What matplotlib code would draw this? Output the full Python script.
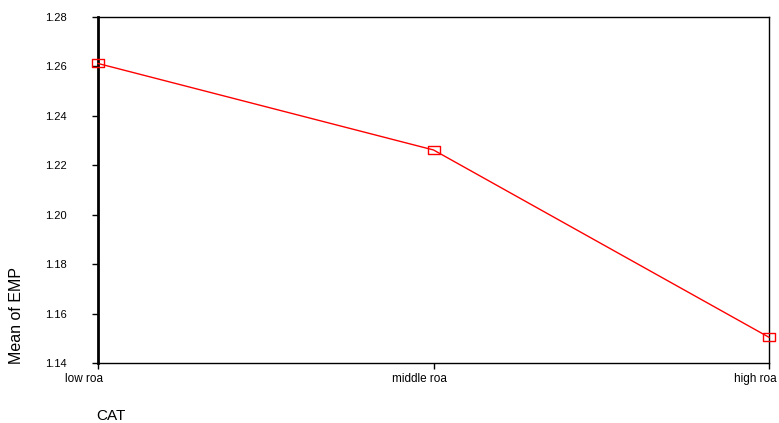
import matplotlib
matplotlib.use("Agg")
import matplotlib.pyplot as plt
from matplotlib.path import Path

categories = ["low roa", "middle roa", "high roa"]
means = [1.2612, 1.2262, 1.1504]
yticks = [1.14, 1.16, 1.18, 1.20, 1.22, 1.24, 1.26, 1.28]

plt.rcParams['font.family'] = ['Liberation Sans', 'DejaVu Sans']

fig = plt.figure(figsize=(7.79, 4.23), dpi=100)
ax = fig.add_axes([98/779, 1-363/423, (769-98)/779, (363-17)/423])

rect = Path([(-0.85, -0.5), (0.85, -0.5), (0.85, 0.5), (-0.85, 0.5), (-0.85, -0.5)],
            [Path.MOVETO, Path.LINETO, Path.LINETO, Path.LINETO, Path.CLOSEPOLY])
x = list(range(len(categories)))
ax.plot(x, means, color='#ff0000', lw=1.0, marker=rect, markersize=9,
        markerfacecolor='none', markeredgecolor='#ff0000', markeredgewidth=1.0,
        clip_on=False, zorder=5)

ax.set_xlim(0, len(categories)-1)
ax.set_ylim(1.14, 1.28)
ax.set_yticks(yticks)
ax.set_yticklabels([f"{v:.2f}" for v in yticks], fontsize=8)
ax.set_xticks(x)
ax.set_xticklabels([])
for xi, cat in zip(x, categories):
    ax.annotate(cat, xy=(xi, 0), xycoords=ax.get_xaxis_transform(),
                xytext=(-10, -7.5), textcoords='offset points',
                ha='center', va='top', fontsize=8.5, annotation_clip=False)

ax.tick_params(axis='both', direction='out', length=4.3, width=1, color='black')
ax.tick_params(axis='y', pad=18)
ax.spines['left'].set_linewidth(2.0)
for s in ['top', 'right', 'bottom']:
    ax.spines[s].set_linewidth(1.0)

fig.text(17/779, 1-315/423, "Mean of EMP", rotation=90, fontsize=11.5, ha='center', va='center')
fig.text(96/779, 1-416/423, "CAT", fontsize=11, ha='left', va='center')

fig.savefig("out.png", dpi=100)
